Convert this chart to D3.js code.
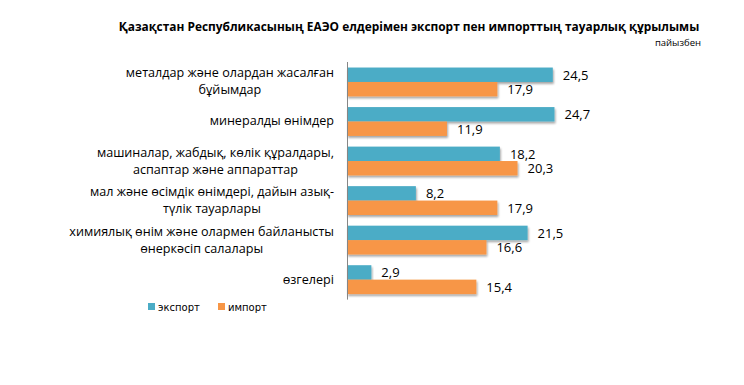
<!DOCTYPE html>
<meta charset="utf-8">
<style>
body { margin: 0; background: #fff; font-family: "Open Sans", "Liberation Sans", sans-serif; }
.title { font-size: 11.9px; font-weight: bold; fill: #000; }
.unit { font-size: 9.5px; fill: #000; }
.cat { font-size: 12.6px; fill: #000; }
.val { font-size: 13px; fill: #000; }
.leg { font-family: "DejaVu Sans", sans-serif; font-size: 10px; fill: #000; }
</style>
<body></body>
<script src="https://cdnjs.cloudflare.com/ajax/libs/d3/7.8.5/d3.min.js"></script>
<script>
var categories = [
  ["металдар және олардан жасалған", "бұйымдар"],
  ["минералды өнімдер"],
  ["машиналар, жабдық, көлік құралдары,", "аспаптар және аппараттар"],
  ["мал және өсімдік өнімдері, дайын азық-", "түлік тауарлары"],
  ["химиялық өнім және олармен байланысты", "өнеркәсіп салалары"],
  ["өзгелері"]
];
var exportVals = [24.5, 24.7, 18.2, 8.2, 21.5, 2.9];
var importVals = [17.9, 11.9, 20.3, 17.9, 16.6, 15.4];
var seriesNames = ["экспорт", "импорт"];
var colors = ["#4bacc6", "#f79646"];

var W = 744, H = 385;
var plotLeft = 347, plotTop = 62, bandH = 39.6;
var labelRight = 334;

var svg = d3.select("body").append("svg").attr("width", W).attr("height", H);

var defs = svg.append("defs");
var f = defs.append("filter").attr("id", "sh").attr("x", "-5%").attr("y", "-20%").attr("width", "115%").attr("height", "170%");
f.append("feGaussianBlur").attr("in", "SourceAlpha").attr("stdDeviation", 1.2);
f.append("feOffset").attr("dx", 1).attr("dy", 2).attr("result", "b");
f.append("feComponentTransfer").append("feFuncA").attr("type", "linear").attr("slope", 0.35);
var fm = f.append("feMerge");
fm.append("feMergeNode");
fm.append("feMergeNode").attr("in", "SourceGraphic");

svg.append("text").attr("class", "title").attr("x", 409).attr("y", 31)
  .attr("text-anchor", "middle")
  .text("Қазақстан Республикасының ЕАЭО елдерімен экспорт пен импорттың тауарлық құрылымы");
svg.append("text").attr("class", "unit").attr("x", 701).attr("y", 46)
  .attr("text-anchor", "end").text("пайызбен");

var y = d3.scaleBand().domain(d3.range(categories.length))
  .range([plotTop, plotTop + bandH * categories.length]).paddingInner(0.27).paddingOuter(0.14);
var ySub = d3.scaleBand().domain([0, 1]).range([0, y.bandwidth()]);
var x = d3.scaleLinear().domain([0, 25]).range([plotLeft, plotLeft + 210]);

var g = svg.append("g");
var rows = g.selectAll(".row").data(d3.range(categories.length))
  .enter().append("g").attr("class", "row")
  .attr("transform", function(i) { return "translate(0," + y(i) + ")"; });

[exportVals, importVals].forEach(function(vals, s) {
  rows.append("rect")
    .attr("x", x(0))
    .attr("y", ySub(s))
    .attr("width", function(i) { return x(vals[i]) - x(0); })
    .attr("height", ySub.bandwidth())
    .attr("fill", colors[s])
    .attr("filter", "url(#sh)");
  rows.append("text").attr("class", "val")
    .attr("x", function(i) { return x(vals[i]) + 10; })
    .attr("y", ySub(s) + ySub.bandwidth() / 2 + 5)
    .text(function(i) { return d3.format(".1f")(vals[i]).replace(".", ","); });
});

// category labels: block right-aligned, lines centred within it
rows.append("text").attr("class", "cat")
  .attr("text-anchor", "middle")
  .each(function(i) {
    var lines = categories[i];
    var t = d3.select(this);
    var cy = y.bandwidth() / 2 + 4;
    var start = cy - (lines.length - 1) * 17 / 2;
    var spans = lines.map(function(l, k) {
      return t.append("tspan").attr("y", start + k * 17).text(l);
    });
    var maxW = d3.max(spans, function(sp) { return sp.node().getComputedTextLength(); });
    spans.forEach(function(sp) { sp.attr("x", labelRight - maxW / 2); });
  });

svg.append("line")
  .attr("x1", plotLeft + 0.5).attr("x2", plotLeft + 0.5)
  .attr("y1", plotTop).attr("y2", plotTop + bandH * categories.length)
  .attr("stroke", "#868686");

// legend
var legX = [148, 218];
seriesNames.forEach(function(n, s) {
  svg.append("rect").attr("x", legX[s]).attr("y", 303).attr("width", 7).attr("height", 7).attr("fill", colors[s]);
  svg.append("text").attr("class", "leg").attr("x", legX[s] + 10).attr("y", 310.5).text(n);
});
</script>
